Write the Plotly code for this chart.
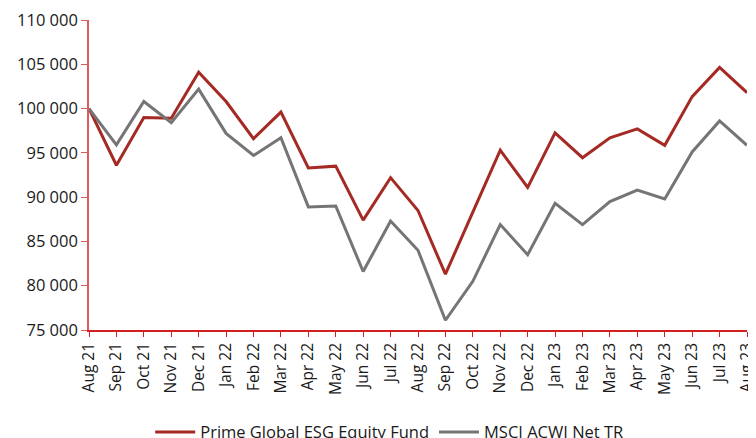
import plotly.graph_objects as go

months = ["Aug 21", "Sep 21", "Oct 21", "Nov 21", "Dec 21", "Jan 22", "Feb 22", "Mar 22",
          "Apr 22", "May 22", "Jun 22", "Jul 22", "Aug 22", "Sep 22", "Oct 22", "Nov 22",
          "Dec 22", "Jan 23", "Feb 23", "Mar 23", "Apr 23", "May 23", "Jun 23", "Jul 23", "Aug 23"]
fund = [100000, 93600, 99000, 98900, 104100, 100800, 96600, 99600,
        93300, 93500, 87400, 92200, 88500, 81300, 88300, 95300,
        91100, 97250, 94450, 96700, 97700, 95850, 101350, 104650, 101800]
msci = [100000, 95900, 100800, 98400, 102200, 97200, 94700, 96700,
        88900, 89000, 81600, 87300, 84000, 76100, 80500, 86900,
        83500, 89300, 86900, 89500, 90800, 89800, 95100, 98600, 95850]
ytick_vals = [75000, 80000, 85000, 90000, 95000, 100000, 105000, 110000]
ytick_text = ["75 000", "80 000", "85 000", "90 000", "95 000", "100 000", "105 000", "110 000"]

fig = go.Figure()
fig.add_trace(go.Scatter(x=months, y=fund, mode="lines", name="Prime Global ESG Equity Fund",
                         line=dict(color="#A52A24", width=3)))
fig.add_trace(go.Scatter(x=months, y=msci, mode="lines", name="MSCI ACWI Net TR",
                         line=dict(color="#767474", width=3)))

fig.update_layout(
    width=756, height=438,
    margin=dict(l=81, r=17, t=12, b=116, autoexpand=False),
    paper_bgcolor="white", plot_bgcolor="white",
    font=dict(family="Open Sans", color="#1a1a1a"),
    showlegend=True,
    legend=dict(orientation="h", x=0.457, xanchor="center", y=-0.33, yanchor="middle",
                font=dict(size=16.5, color="#1a1a1a"), itemwidth=40),
    xaxis=dict(type="category", range=[0, 24], showgrid=False, showline=True,
               linecolor="#D42020", linewidth=1.5, ticks="outside", ticklen=5,
               tickcolor="#D42020", tickangle=-90, tickfont=dict(size=15.5),
               zeroline=False, automargin=False, ticklabeloverflow="allow"),
    yaxis=dict(range=[75000, 110000], tickvals=ytick_vals, ticktext=ytick_text,
               showgrid=False, showline=True, linecolor="#DA5A5F", linewidth=1.5,
               ticks="outside", ticklen=6, tickcolor="#DA5A5F", tickfont=dict(size=16.5),
               zeroline=False, automargin=False, ticklabeloverflow="allow"),
)
fig.write_html("out.html")
